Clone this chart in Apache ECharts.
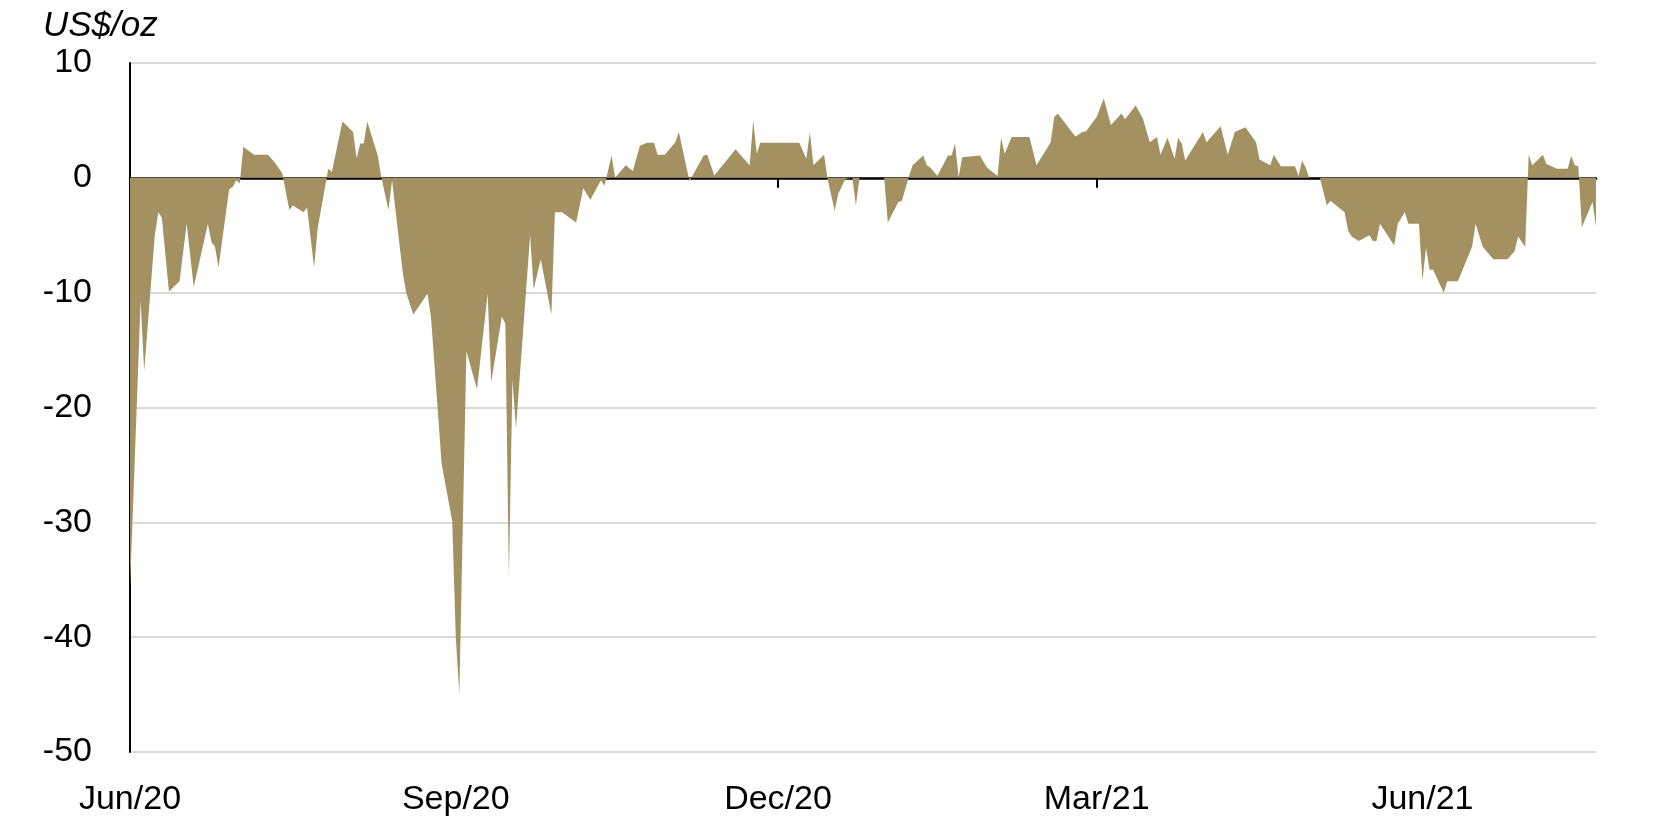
<!DOCTYPE html>
<html>
<head>
<meta charset="utf-8">
<script src="https://cdn.jsdelivr.net/npm/echarts@6/dist/echarts.min.js"></script>
<style>
html,body{margin:0;padding:0;background:#fff;}
#chart{width:1669px;height:820px;}
</style>
</head>
<body>
<div id="chart"></div>
<script>
// ---- data ----
const dates = [
'2020-06-01','2020-06-04','2020-06-05','2020-06-08','2020-06-09','2020-06-10','2020-06-12','2020-06-15','2020-06-17','2020-06-19',
'2020-06-23','2020-06-24','2020-06-25','2020-06-26','2020-06-29','2020-06-30','2020-07-01','2020-07-02','2020-07-03','2020-07-06',
'2020-07-10','2020-07-12','2020-07-14','2020-07-16','2020-07-17','2020-07-20','2020-07-21','2020-07-23','2020-07-24','2020-07-27',
'2020-07-28','2020-07-31','2020-08-03','2020-08-04','2020-08-05','2020-08-06','2020-08-07','2020-08-10','2020-08-11','2020-08-13',
'2020-08-14','2020-08-17','2020-08-18','2020-08-20','2020-08-24','2020-08-25','2020-08-28','2020-08-31','2020-09-01','2020-09-02',
'2020-09-04','2020-09-07','2020-09-10','2020-09-11','2020-09-14','2020-09-15','2020-09-16','2020-09-17','2020-09-18','2020-09-22',
'2020-09-23','2020-09-25','2020-09-28','2020-09-29','2020-10-01','2020-10-05','2020-10-07','2020-10-09','2020-10-12','2020-10-13',
'2020-10-15','2020-10-16','2020-10-19','2020-10-21','2020-10-23','2020-10-25','2020-10-27','2020-10-28','2020-10-30','2020-11-02',
'2020-11-03','2020-11-06','2020-11-10','2020-11-11','2020-11-13','2020-11-19','2020-11-23','2020-11-24','2020-11-25','2020-11-26',
'2020-12-07','2020-12-09','2020-12-10','2020-12-11','2020-12-14','2020-12-15','2020-12-17','2020-12-18','2020-12-20','2020-12-22',
'2020-12-23','2020-12-24','2020-12-31','2021-01-01','2021-01-04','2021-01-05','2021-01-07','2021-01-08','2021-01-11','2021-01-12',
'2021-01-13','2021-01-15','2021-01-18','2021-01-19','2021-01-20','2021-01-21','2021-01-22','2021-01-27','2021-01-29','2021-02-01',
'2021-02-02','2021-02-03','2021-02-05','2021-02-10','2021-02-12','2021-02-16','2021-02-17','2021-02-18','2021-02-22','2021-02-23',
'2021-02-25','2021-02-26','2021-03-01','2021-03-03','2021-03-05','2021-03-08','2021-03-09','2021-03-12','2021-03-14','2021-03-16',
'2021-03-18','2021-03-19','2021-03-21','2021-03-23','2021-03-24','2021-03-25','2021-03-26','2021-03-31','2021-04-01','2021-04-05',
'2021-04-07','2021-04-09','2021-04-12','2021-04-15','2021-04-16','2021-04-19','2021-04-20','2021-04-22','2021-04-26','2021-04-27',
'2021-04-28','2021-04-29','2021-04-30','2021-05-03','2021-05-05','2021-05-06','2021-05-10','2021-05-11','2021-05-12','2021-05-14',
'2021-05-17','2021-05-18','2021-05-19','2021-05-20','2021-05-24','2021-05-25','2021-05-27','2021-05-28','2021-05-31','2021-06-01',
'2021-06-02','2021-06-03','2021-06-04','2021-06-07','2021-06-08','2021-06-11','2021-06-15','2021-06-16','2021-06-18','2021-06-21',
'2021-06-25','2021-06-27','2021-06-28','2021-06-30','2021-07-01','2021-07-02','2021-07-05','2021-07-06','2021-07-09','2021-07-12',
'2021-07-13','2021-07-14','2021-07-15','2021-07-16','2021-07-19','2021-07-20'
];
const values = [
-35.8,-10.7,-16.8,-5.0,-3.0,-3.5,-9.9,-9.0,-4.0,-9.5,
-4.0,-5.6,-6.0,-7.8,-1.0,-0.8,-0.2,-0.5,2.7,2.0,
2.0,1.3,0.4,-2.8,-2.4,-3.0,-2.6,-7.8,-4.4,0.8,
0.5,4.9,4.0,1.7,3.0,3.0,4.9,1.9,0.0,-2.8,
-0.2,-8.2,-10.0,-11.9,-10.1,-12.1,-24.9,-29.9,-40.0,-45.0,
-15.1,-18.4,-10.1,-17.8,-12.1,-12.7,-34.8,-17.6,-21.8,-5.0,
-9.7,-7.1,-11.9,-3.0,-3.0,-3.9,-0.9,-1.9,-0.2,-0.7,
1.95,0.0,1.1,0.6,2.8,3.06,3.06,2.0,2.0,3.1,
4.0,-0.3,1.95,2.0,0.2,2.5,1.1,5.0,2.1,3.06,
3.06,1.66,4.0,1.1,2.0,-0.1,-2.86,-1.4,-0.1,0.0,
-2.4,0.0,0.0,-3.9,-2.1,-2.0,0.15,1.1,1.95,1.1,
0.9,0.15,1.95,1.95,3.0,0.05,1.8,1.95,0.9,0.15,
3.5,2.1,3.56,3.56,1.1,3.1,5.3,5.6,4.0,3.6,
4.0,4.05,5.3,6.9,4.6,5.6,5.1,6.3,5.2,3.1,
3.56,2.0,3.5,1.66,3.5,3.0,1.5,4.0,3.1,4.5,
2.0,4.0,4.4,3.1,1.6,1.1,2.0,1.0,1.0,0.15,
1.5,0.9,0.0,0.0,-2.4,-2.0,-3.0,-4.6,-5.1,-5.5,
-5.0,-5.5,-5.5,-4.0,-5.9,-4.0,-3.0,-4.0,-4.0,-8.9,
-6.1,-8.0,-8.0,-10.0,-9.0,-9.0,-6.0,-4.0,-6.0,-7.1,
-7.1,-6.4,-5.1,-6.0,2.0,1.1,2.0,1.2,0.8,0.8,
1.9,1.1,1.0,-4.3,-2.1,-4.2
];
const tickDates = ['2020-06-01','2020-09-01','2020-12-01','2021-03-01','2021-06-01'];
const tickLabels = ['Jun/20','Sep/20','Dec/20','Mar/21','Jun/21'];
const axisStart = '2020-06-01';
const axisEnd = '2021-07-20';
const unitLabel = 'US$/oz';

// ---- build chart ----
function parseDate(s){ const p = s.split('-').map(Number); return Date.UTC(p[0], p[1]-1, p[2]); }
const tickValues = tickDates.map(parseDate);
const seriesData = dates.map((d,i)=>[parseDate(d), values[i]]);
const FONT = '"Liberation Sans", Arial, sans-serif';
function labelFor(v){
  for (let i = 0; i < tickValues.length; i++) {
    if (Math.abs(tickValues[i] - v) < 3600000) return tickLabels[i];
  }
  return '';
}
const xMin = parseDate(axisStart), xMax = parseDate(axisEnd);

const chart = echarts.init(document.getElementById('chart'), null, {renderer:'canvas'});
chart.setOption({
  animation:false,
  backgroundColor:'#ffffff',
  title:{
    text:unitLabel, left:38, top:4,
    textStyle:{fontFamily:FONT, fontSize:35, fontStyle:'italic', fontWeight:'normal', color:'#000'}
  },
  grid:{left:130, right:73, top:63, bottom:68, containLabel:false},
  xAxis:[{
    type:'value', min:xMin, max:xMax, scale:true,
    axisLine:{show:true, onZero:true, lineStyle:{color:'#000', width:2.5}},
    axisTick:{show:true, customValues:tickValues, length:10, lineStyle:{color:'#000', width:2}},
    axisLabel:{show:false},
    splitLine:{show:false}
  },{
    type:'value', min:xMin, max:xMax, scale:true, position:'bottom',
    axisLine:{show:false, onZero:false},
    axisTick:{show:false},
    axisLabel:{show:true, customValues:tickValues, formatter:labelFor, margin:31,
      fontFamily:FONT, fontSize:34, color:'#000', showMinLabel:true, showMaxLabel:true},
    splitLine:{show:false}
  }],
  yAxis:{
    type:'value', min:-50, max:10, interval:10,
    axisLine:{show:true, lineStyle:{color:'#000', width:2}},
    axisTick:{show:false},
    axisLabel:{fontFamily:FONT, fontSize:34, color:'#000', margin:38},
    splitLine:{show:true, lineStyle:{color:'#d9d9d9', width:2}}
  },
  series:[{
    type:'line', xAxisIndex:0, data:seriesData,
    showSymbol:false, symbol:'none',
    lineStyle:{width:0},
    itemStyle:{color:'#a39162'},
    areaStyle:{color:'#a39162', opacity:1, origin:0},
    z:1
  }]
});
</script>
</body>
</html>
